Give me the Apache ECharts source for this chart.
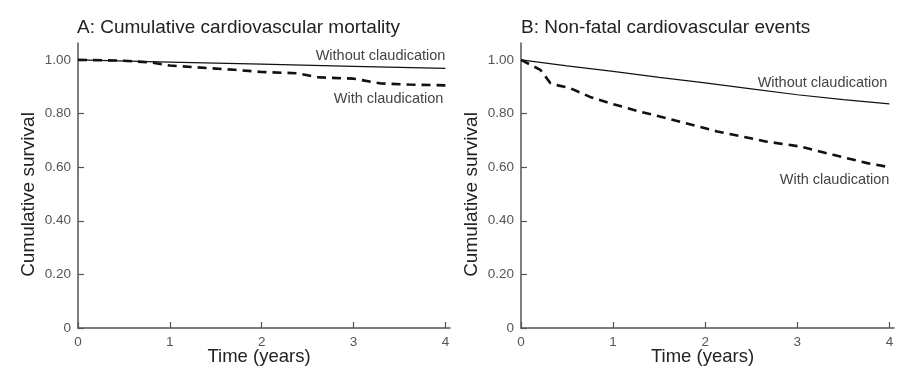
<!DOCTYPE html>
<html><head><meta charset="utf-8">
<script src="https://cdn.jsdelivr.net/npm/echarts@6/dist/echarts.min.js"></script>
<style>html,body{margin:0;padding:0;background:#fff}#c{width:915px;height:370px}</style>
</head><body><div id="c"></div>
<script>
const titles = ['A: Cumulative cardiovascular mortality', 'B: Non-fatal cardiovascular events'];
const xTicks = [0, 1, 2, 3, 4];
const yTicks = [0, 0.2, 0.4, 0.6, 0.8, 1.0];
const seriesNames = ['Without claudication', 'With claudication'];
// Panel A
const aWithoutT = [0, 1, 2, 3, 4];
const aWithoutV = [1.0, 0.992, 0.984, 0.976, 0.968];
const aWithT = [0, 0.5, 0.8, 1.0, 1.3, 1.7, 2.0, 2.4, 2.6, 3.0, 3.3, 3.6, 4.0];
const aWithV = [1.0, 0.997, 0.99, 0.979, 0.972, 0.963, 0.955, 0.950, 0.935, 0.930, 0.912, 0.908, 0.905];
// Panel B
const bWithoutT = [0, 0.5, 1, 1.5, 2, 2.5, 3, 3.5, 4];
const bWithoutV = [1.0, 0.978, 0.957, 0.935, 0.914, 0.892, 0.870, 0.852, 0.836];
const bWithT = [0, 0.21, 0.32, 0.4, 0.53, 0.75, 0.97, 1.29, 1.59, 2.13, 2.67, 3.03, 3.39, 3.76, 4.0];
const bWithV = [1.0, 0.963, 0.913, 0.905, 0.895, 0.862, 0.838, 0.807, 0.782, 0.733, 0.695, 0.677, 0.646, 0.615, 0.60];

const zip = (t, v) => t.map((x, i) => [x, v[i]]);
const font = 'Liberation Sans, Arial, Helvetica, sans-serif';
const axisCol = '#555';

function xAx(i) {
  return {
    gridIndex: i, type: 'value', min: 0, max: 4.05,
    name: 'Time (years)', nameLocation: 'middle', nameGap: 19, nameMoveOverlap: false,
    nameTextStyle: {fontSize: 18.5, color: '#222', fontFamily: font, padding: [0, 10, 0, 0]},
    axisLine: {lineStyle: {color: axisCol, width: 1.5}},
    axisTick: {inside: true, length: 6, customValues: xTicks, lineStyle: {color: axisCol, width: 1.2}},
    axisLabel: {customValues: xTicks, margin: 7, fontSize: 13.5, color: '#555', fontFamily: font},
    splitLine: {show: false}
  };
}
function yAx(i) {
  return {
    gridIndex: i, type: 'value', min: 0, max: 1.063,
    name: 'Cumulative survival', nameLocation: 'middle', nameGap: 40, nameMoveOverlap: false,
    nameTextStyle: {fontSize: 19, color: '#222', fontFamily: font, padding: [0, 18, 0, 0]},
    axisLine: {lineStyle: {color: axisCol, width: 1.5}},
    axisTick: {inside: true, length: 6, customValues: yTicks, lineStyle: {color: axisCol, width: 1.2}},
    axisLabel: {customValues: yTicks, margin: 7, fontSize: 13.5, color: '#555', fontFamily: font,
      formatter: v => v === 0 ? '0' : v.toFixed(2)},
    splitLine: {show: false}
  };
}
function line(i, data, solid, label, off) {
  return {
    type: 'line', xAxisIndex: i, yAxisIndex: i, data: data, symbol: 'none', silent: true,
    lineStyle: solid ? {color: '#111', width: 1.2} : {color: '#111', width: 2.6, type: [9, 6]},
    endLabel: {show: true, formatter: label, align: 'right', verticalAlign: 'middle',
      offset: off, fontSize: 14.5, color: '#444', fontFamily: font},
    animation: false
  };
}
const chart = echarts.init(document.getElementById('c'), null, {renderer: 'canvas'});
chart.setOption({
  animation: false,
  title: [
    {text: titles[0], left: 72, top: 13, textStyle: {fontSize: 19, fontWeight: 'normal', color: '#222', fontFamily: font}},
    {text: titles[1], left: 516, top: 13, textStyle: {fontSize: 19, fontWeight: 'normal', color: '#222', fontFamily: font}}
  ],
  grid: [
    {left: 78, width: 372, top: 43, bottom: 42, outerBoundsMode: 'none', containLabel: false},
    {left: 521, width: 373, top: 43, bottom: 42, outerBoundsMode: 'none', containLabel: false}
  ],
  xAxis: [xAx(0), xAx(1)],
  yAxis: [yAx(0), yAx(1)],
  series: [
    line(0, zip(aWithoutT, aWithoutV), true, seriesNames[0], [-8, -12]),
    line(0, zip(aWithT, aWithV), false, seriesNames[1], [-10, 14]),
    line(1, zip(bWithoutT, bWithoutV), true, seriesNames[0], [-10, -21]),
    line(1, zip(bWithT, bWithV), false, seriesNames[1], [-8, 13])
  ]
});
</script></body></html>
